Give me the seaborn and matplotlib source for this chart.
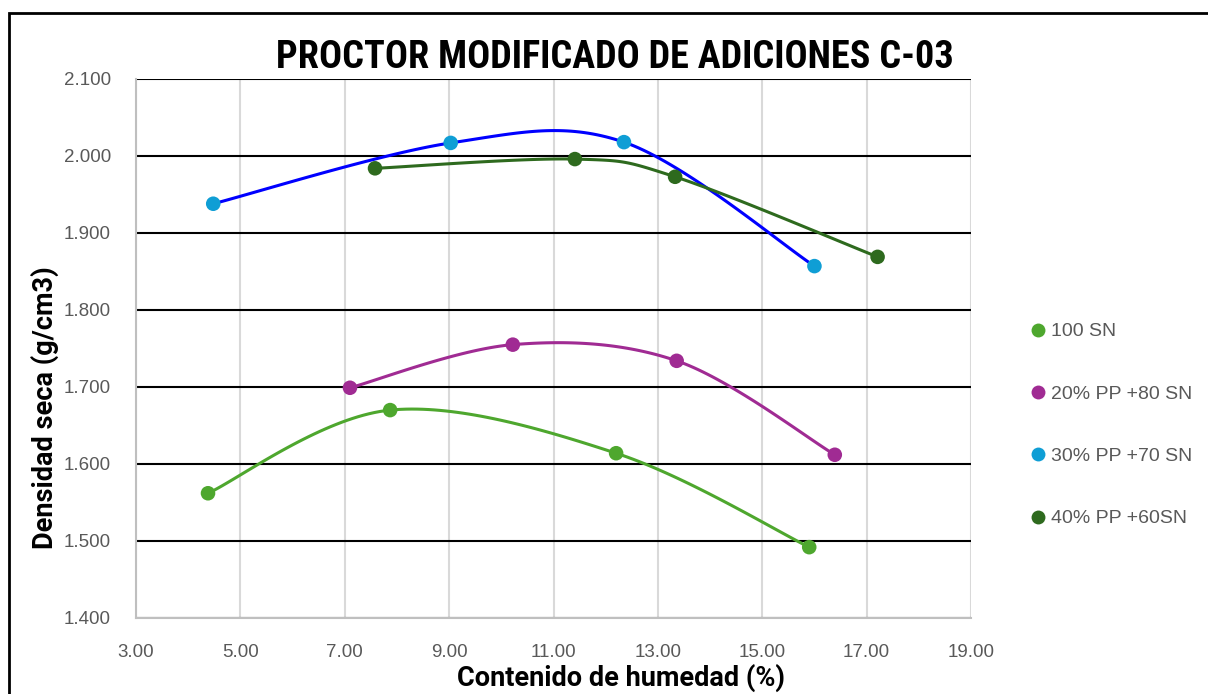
import numpy as np
import matplotlib
matplotlib.use("Agg")
import matplotlib.pyplot as plt
import seaborn as sns
from matplotlib.lines import Line2D
from matplotlib.patches import Rectangle

# datos
x_100 = [4.38, 7.87, 12.20, 15.90]
y_100 = [1.562, 1.670, 1.614, 1.492]
x_20 = [7.10, 10.22, 13.36, 16.39]
y_20 = [1.699, 1.755, 1.734, 1.612]
x_30 = [4.48, 9.03, 12.35, 16.00]
y_30 = [1.938, 2.017, 2.018, 1.857]
x_40 = [7.58, 11.41, 13.33, 17.21]
y_40 = [1.984, 1.996, 1.973, 1.869]

labels = ["100 SN", "20% PP +80 SN", "30% PP +70 SN", "40% PP +60SN"]
marker_colors = ["#4EA72E", "#A02B93", "#0F9ED5", "#2E6A1E"]
line_colors = ["#4EA72E", "#A02B93", "#0000FF", "#2E6A1E"]

sns.set_style("white")
plt.rcParams['font.family'] = ['Liberation Sans', 'DejaVu Sans']


def smooth(xs, ys, n=40):
    # curva suavizada tipo excel (bezier)
    p = np.column_stack([xs, ys])
    out = []
    for i in range(len(p) - 1):
        p0 = p[i - 1] if i > 0 else p[i]
        p1, p2 = p[i], p[i + 1]
        p3 = p[i + 2] if i + 2 < len(p) else p[i + 1]
        c1 = p1 + (p2 - p0) / 6
        c2 = p2 - (p3 - p1) / 6
        t = np.linspace(0, 1, n)[:, None]
        seg = (1 - t)**3 * p1 + 3 * (1 - t)**2 * t * c1 + 3 * (1 - t) * t**2 * c2 + t**3 * p2
        out.append(seg)
    out = np.vstack(out)
    return out[:, 0], out[:, 1]


fig = plt.figure(figsize=(12.08, 6.94), dpi=100)
ax = fig.add_axes([136 / 1208, 1 - 618 / 694, (971 - 136) / 1208, (618 - 79) / 694])

fig.patches.append(Rectangle((9 / 1208, -0.1), 1.2, 1 - 13 / 694 + 0.1, transform=fig.transFigure,
                             fill=False, edgecolor="black", linewidth=2))

series = [(x_100, y_100), (x_20, y_20), (x_30, y_30), (x_40, y_40)]
for (xs, ys), lc, mc in zip(series, line_colors, marker_colors):
    sx, sy = smooth(xs, ys)
    ax.plot(sx, sy, color=lc, linewidth=2.2, zorder=3)
    sns.scatterplot(x=xs, y=ys, ax=ax, color=mc, s=110, edgecolor="none", zorder=4)

ax.set_xlim(3, 19)
ax.set_ylim(1.4, 2.1)
ax.set_xticks(np.arange(3, 19.1, 2))
ax.set_yticks(np.arange(1.4, 2.101, 0.1))
ax.set_xticklabels([f"{v:.2f}" for v in np.arange(3, 19.1, 2)])
ax.set_yticklabels([f"{v:.3f}" for v in np.arange(1.4, 2.101, 0.1)])

ax.xaxis.grid(True, color="#D9D9D9", linewidth=1.5)
ax.yaxis.grid(True, color="black", linewidth=1.5)
ax.set_axisbelow(True)
for s in ["top", "right"]:
    ax.spines[s].set_visible(False)
ax.spines["left"].set_color("#BFBFBF")
ax.spines["bottom"].set_color("#BFBFBF")
ax.spines["left"].set_linewidth(1.5)
ax.spines["bottom"].set_linewidth(1.5)
ax.tick_params(axis="both", colors="#595959", labelsize=13.5, length=0)
ax.tick_params(axis="y", pad=18)
ax.tick_params(axis="x", pad=19)

fig.text(615 / 1208, 1 - 58 / 694, "PROCTOR MODIFICADO DE ADICIONES C-03", ha="center", va="center",
         fontsize=27.5, fontweight="bold", fontstretch="condensed", color="black",
         family=["Liberation Sans Narrow", "Roboto Condensed", "Liberation Sans"])
fig.text(621 / 1208, 1 - 678 / 694, "Contenido de humedad (%)", ha="center", va="center",
         fontsize=19.5, fontweight="bold", color="black", family=["Roboto", "Liberation Sans"])
fig.text(45 / 1208, 1 - 408 / 694, "Densidad seca (g/cm3)", ha="center", va="center", rotation=90,
         fontsize=19.5, fontweight="bold", color="black", family=["Roboto", "Liberation Sans"])

handles = [Line2D([], [], marker="o", linestyle="none", markersize=10, markerfacecolor=c,
                  markeredgecolor="none") for c in marker_colors]
fig.legend(handles, labels, loc="center left", bbox_to_anchor=(1009 / 1208, 1 - 425 / 694),
           frameon=False, fontsize=14, labelcolor="#595959", handletextpad=0.05,
           labelspacing=2.3, handlelength=1.2)

fig.savefig("out.png", dpi=100)
